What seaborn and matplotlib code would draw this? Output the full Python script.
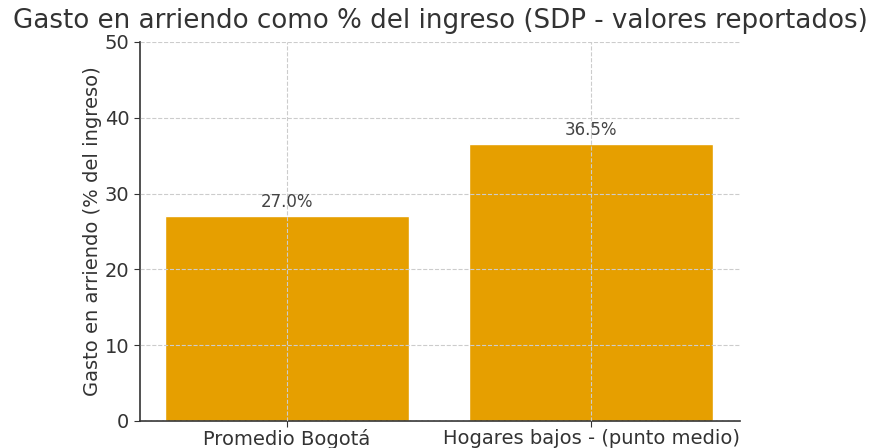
import pandas as pd
import seaborn as sns
import matplotlib.pyplot as plt

# Values
categorias = ["Promedio Bogotá", "Hogares bajos - (punto medio)"]
porcentajes = [27.0, 36.5]
etiquetas = ["27.0%", "36.5%"]

df = pd.DataFrame({"categoria": categorias, "gasto": porcentajes})

sns.set_style("white")
plt.rcParams['font.family'] = ['DejaVu Sans']
plt.rcParams['text.color'] = '#333333'
plt.rcParams['axes.labelcolor'] = '#333333'
plt.rcParams['xtick.color'] = '#333333'
plt.rcParams['ytick.color'] = '#333333'

fig = plt.figure(figsize=(8.69, 4.48), dpi=100)
ax = fig.add_axes([0.161, 0.0603, 0.6906, 0.8460])

sns.barplot(data=df, x="categoria", y="gasto", color="#E69F00", saturation=1,
            width=0.8, ax=ax)

for i, txt in enumerate(etiquetas):
    ax.annotate(txt, (i, porcentajes[i]), xytext=(0, 4), textcoords="offset points",
                ha="center", va="bottom", fontsize=12, color="#444444")

ax.set_xlim(-0.484, 1.49)
ax.set_ylim(0, 50)
ax.set_yticks([0, 10, 20, 30, 40, 50])
ax.grid(True, linestyle="--", color="#cccccc", linewidth=0.8)
ax.set_axisbelow(False)
ax.tick_params(axis="both", labelsize=14, length=4, left=True, bottom=True)
ax.tick_params(axis="x", pad=2)
ax.set_xlabel("")
ax.set_ylabel("Gasto en arriendo (% del ingreso)", fontsize=14, labelpad=2)
ax.set_title("Gasto en arriendo como % del ingreso (SDP - valores reportados)",
             fontsize=18.8, pad=10)
sns.despine(ax=ax)
for s in ["left", "bottom"]:
    ax.spines[s].set_color("#333333")
    ax.spines[s].set_linewidth(1.2)

fig.savefig("out.png", dpi=100)
